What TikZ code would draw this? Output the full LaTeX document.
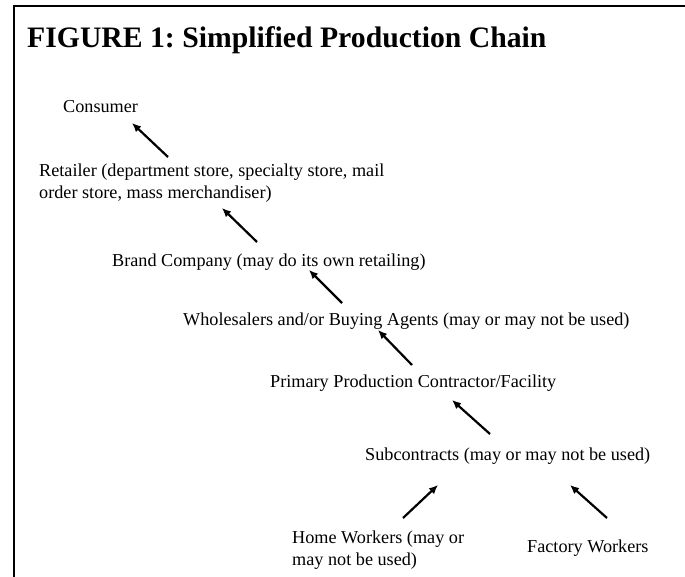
\documentclass[tikz,border=0pt]{standalone}
\usepackage{fontspec}
\setmainfont{Liberation Serif}
\usepackage{tikz}
\usetikzlibrary{calc,arrows.meta}
\frenchspacing

\begin{document}
\begin{tikzpicture}[x=1pt,y=-1pt]
      \useasboundingbox (0,0) rectangle (685,577);
      \draw [line width=2pt] (14,577) -- (14,6) -- (685,6);

      \node [anchor=base west, inner sep=0pt, font=\fontsize{29.7}{34}\selectfont\bfseries] (title) at (27,48) {FIGURE 1: Simplified Production Chain};

      \begin{scope}[every node/.style={anchor=base west, inner sep=0pt, align=left, font=\fontsize{18.2}{22}\selectfont}]
        \node (0) at (63,113) {Consumer};
        \node (1) at (39,199) {Retailer (department store, specialty store, mail\\order store, mass merchandiser)};
        \node (2) at (112,267) {Brand Company (may do its own retailing)};
        \node (3) at (183,325) {Wholesalers and/or Buying Agents (may or may not be used)};
        \node (4) at (270,387) {Primary Production Contractor/Facility};
        \node (5) at (365,460) {Subcontracts (may or may not be used)};
        \node (6) at (292,565) {Home Workers (may or\\may not be used)};
        \node (7) at (527,552) {Factory Workers};
      \end{scope}

      \begin{scope}[-{Latex[length=9pt,width=8pt]}, line width=2.2pt]
        \draw ($(1.base west)+(129,-42)$) to ($(0.base west)+(69,10)$);
        \draw ($(2.base west)+(145,-25)$) to ($(1.base west)+(183,9)$);
        \draw ($(3.base west)+(159,-22)$) to ($(2.base west)+(197,3)$);
        \draw ($(4.base west)+(142,-22)$) to ($(3.base west)+(195,5)$);
        \draw ($(5.base west)+(125,-26)$) to ($(4.base west)+(182,13)$);
        \draw ($(6.base west)+(111,-47)$) to ($(5.base west)+(73,25)$);
        \draw ($(7.base west)+(80,-34)$) to ($(5.base west)+(205,25)$);
      \end{scope}
\end{tikzpicture}
\end{document}
